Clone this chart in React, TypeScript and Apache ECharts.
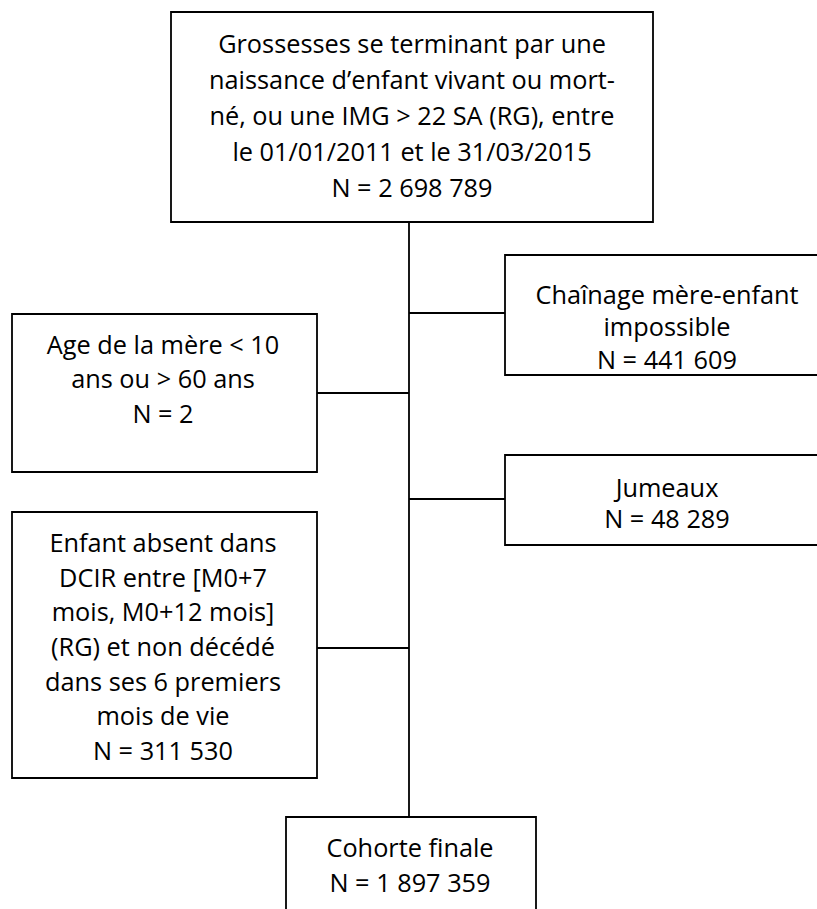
import React, { useEffect, useRef } from "react";
import * as echarts from "echarts";

// ---- Data (texts of the flow chart) ----
const boxIds = ["initial", "chainage", "age", "jumeaux", "dcir", "final"];
const boxLabels = [
  ["Grossesses se terminant par une", "naissance d’enfant vivant ou mort-", "né, ou une IMG > 22 SA (RG), entre", "le 01/01/2011 et le 31/03/2015"],
  ["Chaînage mère-enfant", "impossible"],
  ["Age de la mère < 10", "ans ou > 60 ans"],
  ["Jumeaux"],
  ["Enfant absent dans", "DCIR entre [M0+7", "mois, M0+12 mois]", "(RG) et non décédé", "dans ses 6 premiers", "mois de vie"],
  ["Cohorte finale"],
];
const boxCounts = ["2 698 789", "441 609", "2", "48 289", "311 530", "1 897 359"];

// ---- Layout (positions in px) ----
const boxRects = [
  { x: 171, y: 12, w: 482, h: 210 },
  { x: 505, y: 255, w: 330, h: 120 },
  { x: 12, y: 314, w: 305, h: 158 },
  { x: 505, y: 455, w: 330, h: 90 },
  { x: 12, y: 512, w: 305, h: 266 },
  { x: 286, y: 817, w: 250, h: 120 },
];
const textCenters = [
  { x: 412, y: 115, lh: 36 },
  { x: 667, y: 326, lh: 32.5 },
  { x: 163, y: 378, lh: 34.5 },
  { x: 667, y: 502, lh: 31 },
  { x: 163, y: 646, lh: 34.7 },
  { x: 410, y: 864, lh: 35 },
];
const trunkX = 409;
const trunkTop = 222;
const trunkBottom = 817;
const branchY = [313, 393, 499, 648];
const branchEnds = [505, 317, 505, 317];

const FONT = "'Open Sans', sans-serif";
const FONT_SIZE = 25.3;
const STROKE = { stroke: "#000", lineWidth: 1.8 };

export default function App() {
  const ref = useRef<HTMLDivElement>(null);
  useEffect(() => {
    if (!ref.current) return;
    const chart = echarts.init(ref.current, null, { renderer: "svg" });
    const elements: any[] = [];
    boxIds.forEach((id, i) => {
      const r = boxRects[i];
      elements.push({
        type: "rect",
        id: "box-" + id,
        shape: { x: r.x, y: r.y, width: r.w, height: r.h },
        style: { fill: "#fff", ...STROKE },
        z: 2,
      });
      const lines = [...boxLabels[i], "N = " + boxCounts[i]];
      elements.push({
        type: "text",
        id: "text-" + id,
        x: textCenters[i].x,
        y: textCenters[i].y,
        style: {
          text: lines.join("\n"),
          fontFamily: FONT,
          fontSize: FONT_SIZE,
          lineHeight: textCenters[i].lh,
          align: "center",
          verticalAlign: "middle",
          fill: "#000",
        },
        z: 3,
      });
    });
    elements.push({
      type: "line",
      shape: { x1: trunkX, y1: trunkTop, x2: trunkX, y2: trunkBottom },
      style: STROKE,
      z: 1,
    });
    branchY.forEach((y, i) => {
      elements.push({
        type: "line",
        shape: { x1: trunkX, y1: y, x2: branchEnds[i], y2: y },
        style: STROKE,
        z: 1,
      });
    });
    chart.setOption({
      animation: false,
      backgroundColor: "#fff",
      graphic: { elements },
    });
    return () => chart.dispose();
  }, []);
  return (
    <div
      ref={ref}
      style={{ position: "fixed", left: 0, top: 0, width: 817, height: 909, background: "#fff" }}
    />
  );
}
